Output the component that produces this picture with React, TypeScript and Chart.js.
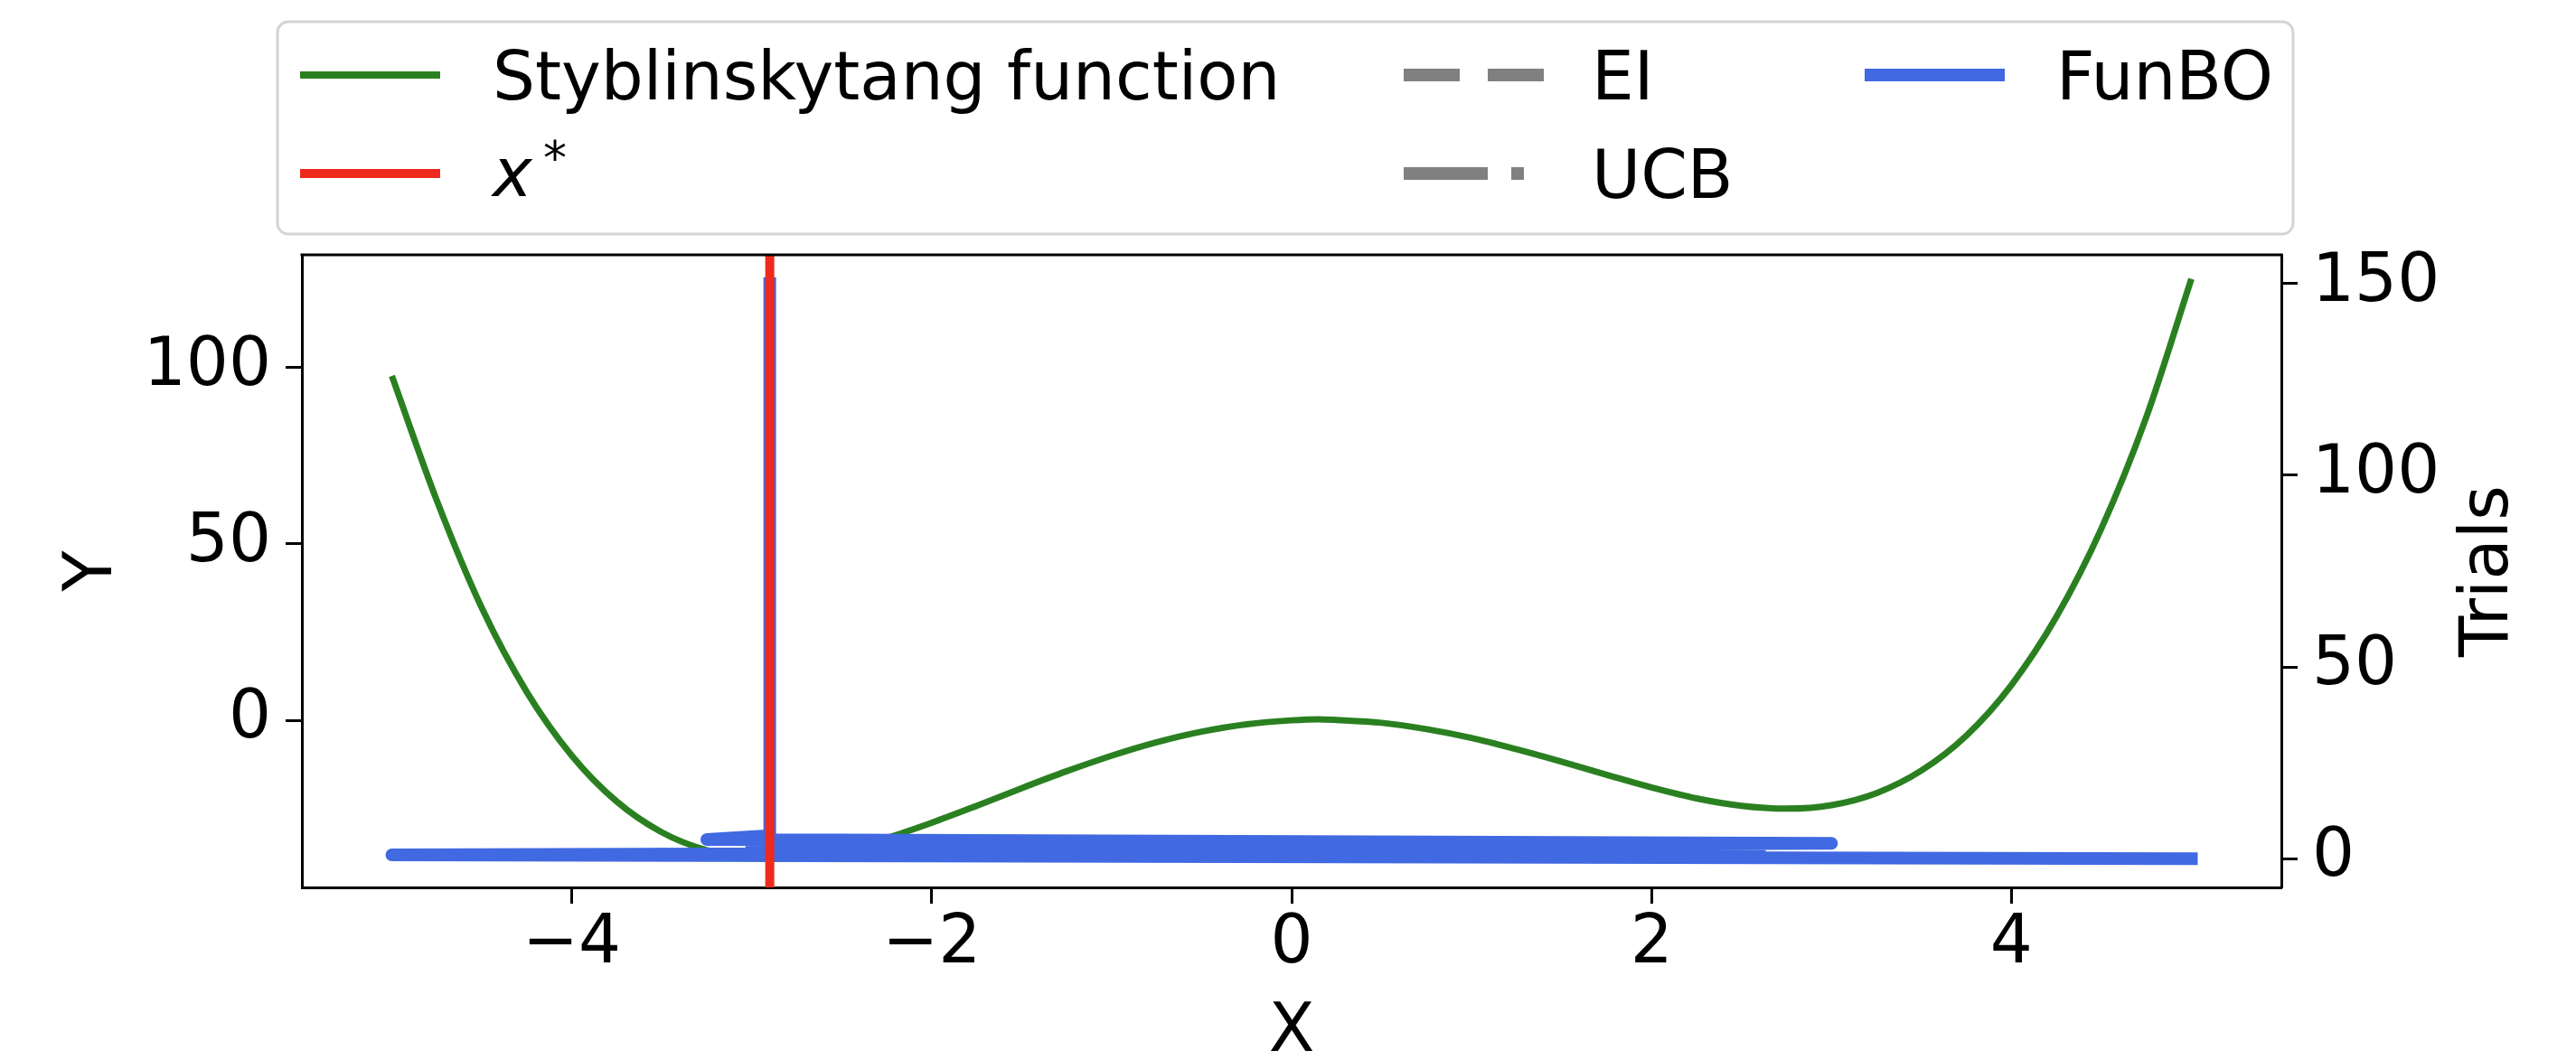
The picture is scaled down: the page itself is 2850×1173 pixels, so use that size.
import React, { useEffect, useRef } from "react";
import { Chart, registerables } from "chart.js";

Chart.register(...registerables);

const W = 2850;
const H = 1173;
const FONT = '"DejaVu Sans", "Liberation Sans", sans-serif';
const FS = 74;

// Styblinski-Tang curve, values
const fnX = [
  -5, -4.75, -4.5, -4.25, -4, -3.75, -3.5, -3.25, -3, -2.9, -2.75, -2.5, -2.25, -2, -1.75, -1.5, -1.25, -1,
  -0.75, -0.5, -0.25, 0, 0.15, 0.25, 0.5, 0.75, 1, 1.25, 1.5, 1.75, 2, 2.25, 2.5, 2.75, 3, 3.25, 3.5, 3.75,
  4, 4.25, 4.5, 4.75, 5,
];
const fnY = [
  97.5, 62.2, 31.8, 8.0, -10.0, -23.0, -31.7, -36.8, -39.0, -39.2, -38.8, -36.7, -33.3, -29.0, -24.2, -19.2,
  -14.4, -10.0, -6.2, -3.2, -1.1, 0.0, 0.3, 0.1, -0.7, -2.5, -5.0, -8.2, -11.7, -15.4, -19.0, -22.1, -24.2,
  -25.0, -24.0, -20.6, -14.2, -4.3, 10.0, 29.3, 54.3, 85.9, 125.0,
];

// optimum location
const xStar = -2.9;

// FunBO: chosen x per trial
const funboX = [5.0, -5.0, 2.6, -3.0, 3.0, -3.25, -2.9, -2.9];
const funboTrials = [0, 1, 2, 3, 4, 5, 6, 150];

// EI / UCB (legend only, nothing visible in the plot)
const eiX: number[] = [];
const eiTrials: number[] = [];
const ucbX: number[] = [];
const ucbTrials: number[] = [];

// axes
const xTicks = [-4, -2, 0, 2, 4];
const yTicks = [0, 50, 100];
const trialTicks = [0, 50, 100, 150];
const xLimits = [-5.5, 5.5];
const yLimits = [-47.3, 131.8];
const trialLimits = [-7.5, 157.5];

const labelFn = "Styblinskytang function";
const labelStar = "x";
const labelStarSup = "*";
const labelEI = "EI";
const labelUCB = "UCB";
const labelFunBO = "FunBO";
const titleX = "X";
const titleY = "Y";
const titleY2 = "Trials";

const GREEN = "#2a8020";
const RED = "#ee2a1e";
const BLUE = "#4169e1";
const GRAY = "#808080";

const toPts = (xs: number[], ys: number[]) => xs.map((x, i) => ({ x, y: ys[i] }));
const fmt = (v: number) => (v < 0 ? "\u2212" + Math.abs(v) : String(v));

const PLOT = { left: 334, right: 2524, top: 282, bottom: 982 };

const framePlugin = {
  id: "frame",
  beforeDraw(chart: any) {
    const ctx = chart.ctx;
    ctx.save();
    ctx.fillStyle = "#fff";
    ctx.fillRect(0, 0, chart.width, chart.height);
    ctx.restore();
  },
  afterDraw(chart: any) {
    const ctx = chart.ctx;
    const a = chart.chartArea;
    ctx.save();
    // top spine
    ctx.strokeStyle = "#000";
    ctx.lineWidth = 3;
    ctx.lineCap = "square";
    ctx.beginPath();
    ctx.moveTo(a.left, a.top);
    ctx.lineTo(a.right, a.top);
    ctx.stroke();

    // axis titles
    const capH = 0.729 * FS;
    ctx.fillStyle = "#000";
    ctx.font = `${FS}px ${FONT}`;
    ctx.textAlign = "center";
    ctx.textBaseline = "alphabetic";
    const cy = (a.top + a.bottom) / 2;
    const cx = (a.left + a.right) / 2;
    ctx.fillText(titleX, cx, 1136 + capH / 2);

    ctx.save();
    ctx.translate(96, cy);
    ctx.rotate(-Math.PI / 2);
    ctx.fillText(titleY, 0, capH / 2);
    ctx.restore();

    ctx.save();
    ctx.translate(2747, cy);
    ctx.rotate(-Math.PI / 2);
    ctx.fillText(titleY2, 0, capH / 2);
    ctx.restore();

    // legend
    const bx = 307, by = 24, bw = 2537 - 307, bh = 259 - 24, r = 12;
    ctx.beginPath();
    ctx.moveTo(bx + r, by);
    ctx.lineTo(bx + bw - r, by);
    ctx.arcTo(bx + bw, by, bx + bw, by + r, r);
    ctx.lineTo(bx + bw, by + bh - r);
    ctx.arcTo(bx + bw, by + bh, bx + bw - r, by + bh, r);
    ctx.lineTo(bx + r, by + bh);
    ctx.arcTo(bx, by + bh, bx, by + bh - r, r);
    ctx.lineTo(bx, by + r);
    ctx.arcTo(bx, by, bx + r, by, r);
    ctx.closePath();
    ctx.fillStyle = "rgba(255,255,255,0.85)";
    ctx.fill();
    ctx.strokeStyle = "#d4d4d4";
    ctx.lineWidth = 3;
    ctx.stroke();

    const rows = [83, 192];
    const cols = [
      { h0: 332, h1: 487, t: 545 },
      { h0: 1553, h1: 1708, t: 1761 },
      { h0: 2063, h1: 2218, t: 2275 },
    ];
    const handle = (c: any, y: number, color: string, lw: number, dash: number[]) => {
      ctx.save();
      ctx.strokeStyle = color;
      ctx.lineWidth = lw;
      ctx.lineCap = "butt";
      ctx.setLineDash(dash);
      ctx.beginPath();
      ctx.moveTo(c.h0, y);
      ctx.lineTo(c.h1, y);
      ctx.stroke();
      ctx.restore();
    };
    const text = (c: any, y: number, s: string) => {
      ctx.save();
      ctx.fillStyle = "#000";
      ctx.font = `${FS}px ${FONT}`;
      ctx.textAlign = "left";
      ctx.textBaseline = "alphabetic";
      ctx.fillText(s, c.t, y + capH / 2);
      ctx.restore();
    };
    handle(cols[0], rows[0], GREEN, 8, []);
    text(cols[0], rows[0], labelFn);
    handle(cols[0], rows[1], RED, 10, []);
    ctx.save();
    ctx.fillStyle = "#000";
    ctx.textAlign = "left";
    ctx.textBaseline = "alphabetic";
    ctx.font = `italic ${FS}px ${FONT}`;
    ctx.fillText(labelStar, cols[0].t, rows[1] + 25);
    ctx.font = `${Math.round(FS * 0.7)}px ${FONT}`;
    ctx.fillText(labelStarSup, cols[0].t + 56, rows[1] + 1);
    ctx.restore();

    handle(cols[1], rows[0], GRAY, 14, [62, 31]);
    text(cols[1], rows[0], labelEI);
    handle(cols[1], rows[1], GRAY, 14, [93, 26, 14, 200]);
    text(cols[1], rows[1], labelUCB);
    handle(cols[2], rows[0], BLUE, 14, []);
    text(cols[2], rows[0], labelFunBO);
    ctx.restore();
  },
};

export default function App() {
  const ref = useRef<HTMLCanvasElement>(null);
  useEffect(() => {
    document.body.style.margin = "0";
    document.body.style.overflow = "hidden";
    const canvas = ref.current!;
    const tickFont = { family: FONT, size: FS, lineHeight: 1.2 };
    const chart = new Chart(canvas, {
      type: "scatter",
      data: {
        datasets: [
          {
            label: "x*",
            data: [
              { x: xStar, y: trialLimits[0] },
              { x: xStar, y: trialLimits[1] },
            ],
            yAxisID: "y2",
            showLine: true,
            borderColor: RED,
            borderWidth: 10,
            pointRadius: 0,
            order: 0,
          },
          {
            label: labelFunBO,
            data: toPts(funboX, funboTrials),
            yAxisID: "y2",
            showLine: true,
            borderColor: BLUE,
            borderWidth: 14,
            borderJoinStyle: "round",
            borderCapStyle: "square",
            pointRadius: 0,
            order: 1,
          },
          {
            label: labelEI,
            data: toPts(eiX, eiTrials),
            yAxisID: "y2",
            showLine: true,
            borderColor: GRAY,
            borderWidth: 14,
            borderDash: [52, 22],
            pointRadius: 0,
            order: 3,
          },
          {
            label: labelUCB,
            data: toPts(ucbX, ucbTrials),
            yAxisID: "y2",
            showLine: true,
            borderColor: GRAY,
            borderWidth: 14,
            borderDash: [90, 22, 14, 22],
            pointRadius: 0,
            order: 3,
          },
          {
            label: labelFn,
            data: toPts(fnX, fnY),
            yAxisID: "y",
            showLine: true,
            borderColor: GREEN,
            borderWidth: 7,
            cubicInterpolationMode: "monotone",
            pointRadius: 0,
            order: 2,
          },
        ],
      } as any,
      options: {
        animation: false,
        responsive: false,
        devicePixelRatio: 1,
        layout: { padding: { top: PLOT.top, left: 0, right: 0, bottom: 0 } },
        plugins: { legend: { display: false }, tooltip: { enabled: false } },
        events: [],
        scales: {
          x: {
            type: "linear",
            position: "bottom",
            min: xLimits[0],
            max: xLimits[1],
            afterBuildTicks: (s: any) => {
              s.ticks = xTicks.map((v) => ({ value: v }));
            },
            afterFit: (s: any) => {
              s.height = H - PLOT.bottom;
            },
            grid: { display: true, drawOnChartArea: false, drawTicks: true, tickLength: 18, tickWidth: 3, tickColor: "#000", color: "#000" },
            border: { display: true, color: "#000", width: 3 },
            ticks: { font: tickFont, color: "#000", padding: 1, autoSkip: false, maxRotation: 0, callback: (v: any) => fmt(Number(v)) },
            title: { display: false },
          },
          y: {
            type: "linear",
            position: "left",
            min: yLimits[0],
            max: yLimits[1],
            afterBuildTicks: (s: any) => {
              s.ticks = yTicks.map((v) => ({ value: v }));
            },
            afterFit: (s: any) => {
              s.width = PLOT.left;
            },
            grid: { display: true, drawOnChartArea: false, drawTicks: true, tickLength: 18, tickWidth: 3, tickColor: "#000", color: "#000" },
            border: { display: true, color: "#000", width: 3 },
            ticks: { font: tickFont, color: "#000", padding: 16, autoSkip: false, callback: (v: any) => fmt(Number(v)) },
          },
          y2: {
            type: "linear",
            position: "right",
            min: trialLimits[0],
            max: trialLimits[1],
            afterBuildTicks: (s: any) => {
              s.ticks = trialTicks.map((v) => ({ value: v }));
            },
            afterFit: (s: any) => {
              s.width = W - PLOT.right;
            },
            grid: { display: true, drawOnChartArea: false, drawTicks: true, tickLength: 18, tickWidth: 3, tickColor: "#000", color: "#000" },
            border: { display: true, color: "#000", width: 3 },
            ticks: { font: tickFont, color: "#000", padding: 16, autoSkip: false, callback: (v: any) => fmt(Number(v)) },
          },
        },
      } as any,
      plugins: [framePlugin],
    });
    return () => chart.destroy();
  }, []);
  return (
    <div style={{ width: W, height: H, position: "relative", background: "#fff" }}>
      <canvas ref={ref} width={W} height={H} style={{ width: W, height: H, display: "block" }} />
    </div>
  );
}
